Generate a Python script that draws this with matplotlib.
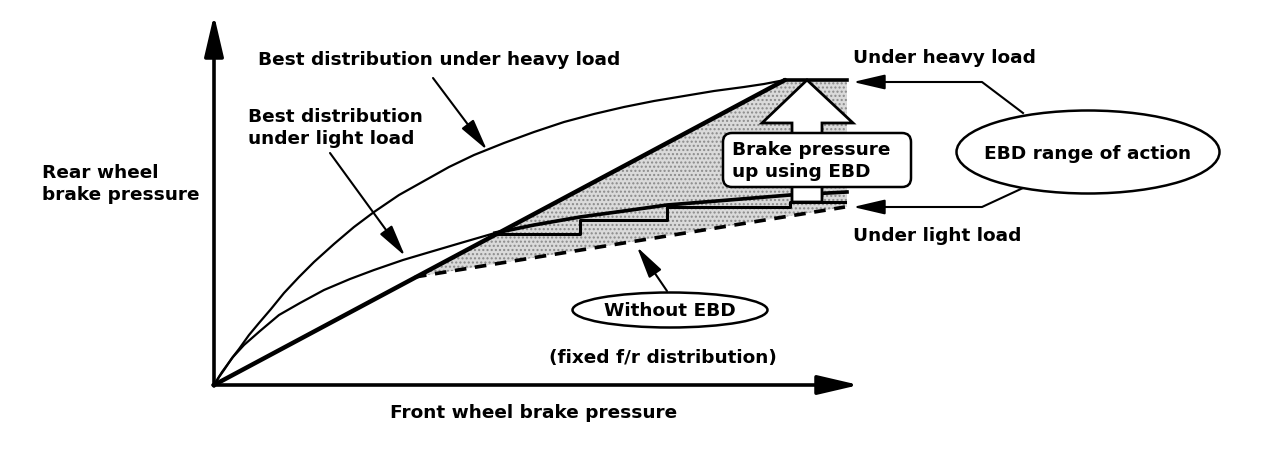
import matplotlib
matplotlib.use("Agg")
import matplotlib.pyplot as plt
from matplotlib.patches import Ellipse, FancyBboxPatch, Polygon

# ---- data (front pressure x, rear pressure y, arbitrary units) ----
heavy_x = [0, 5, 10, 18, 25, 35, 45, 57, 70, 85, 100, 120, 140, 160, 185, 210, 235, 260,
           290, 320, 350, 380, 410, 440, 470, 500, 530, 550, 571]
heavy_y = [0, 8, 15, 27, 36, 50, 62, 76, 92, 108, 123, 141, 158, 173, 190, 204, 218, 230,
           242, 253, 263, 271, 278, 284, 289, 294, 298, 301, 305]
light_x = [0, 8, 19, 30, 46, 65, 86, 110, 136, 160, 189, 216, 250, 281, 320, 366, 410,
           453, 515, 576, 633]
light_y = [0, 13, 28, 40, 54, 70, 82, 95, 106, 115, 125, 133, 143, 152, 160, 168, 174,
           180, 185, 190, 193]
fixed_x = [0, 571]
fixed_y = [0, 305]
noebd_x = [201, 631]
noebd_y = [108, 178]
heavy_level_x = [571, 633]
heavy_level_y = [305, 305]
stair_x = [281, 366, 366, 453, 453, 576, 576, 631]
stair_y = [151, 151, 165, 165, 178, 178, 183, 183]

FONT = "DejaVu Sans"
FS = 13.3
LS = 1.25

fig = plt.figure(figsize=(12.8, 4.5), dpi=100)
ax = fig.add_axes([0, 0, 1, 1])
ax.set_xlim(-214, 1066)
ax.set_ylim(-65, 385)
ax.axis("off")

def txt(x, y, s, ha="left", **kw):
    ax.text(x, y, s, fontfamily=FONT, fontweight="bold", fontsize=FS, ha=ha,
            va="center", linespacing=LS, zorder=kw.pop("zorder", 6), **kw)

# shaded EBD range
poly = [(noebd_x[0], noebd_y[0]), (fixed_x[1], fixed_y[1]),
        (heavy_level_x[1], heavy_level_y[1]), (heavy_level_x[1], noebd_y[1]),
        (noebd_x[1], noebd_y[1])]
ax.add_patch(Polygon(poly, closed=True, facecolor="#dadada", edgecolor="#8a8a8a",
                     hatch="....", linewidth=0, zorder=1))

# axes arrows
axap = dict(arrowstyle="-|>,head_length=1.8,head_width=0.42", lw=2.6, color="black",
            mutation_scale=14, shrinkA=0, shrinkB=0)
ax.annotate("", xy=(0, 370), xytext=(0, -1), arrowprops=axap, zorder=6)
ax.annotate("", xy=(645, 0), xytext=(-1, 0), arrowprops=axap, zorder=6)

# curves
ax.plot(heavy_x, heavy_y, color="black", lw=1.6, zorder=3, solid_joinstyle="round")
ax.plot(light_x, light_y, color="black", lw=1.6, zorder=3, solid_joinstyle="round")
lx2 = [x for x in light_x if x >= stair_x[0]]
ly2 = [y for x, y in zip(light_x, light_y) if x >= stair_x[0]]
ax.plot(lx2, ly2, color="black", lw=2.6, zorder=3, solid_joinstyle="round")
ax.plot(fixed_x, fixed_y, color="black", lw=3.2, zorder=3, solid_capstyle="round")
ax.plot(heavy_level_x, heavy_level_y, color="black", lw=2.6, zorder=3)
ax.plot(noebd_x, noebd_y, color="black", lw=2.6, dashes=(3.2, 2.4), zorder=3)
ax.plot(stair_x, stair_y, color="black", lw=2.2, zorder=3)

# hollow "pressure up" arrow from light-load level to heavy-load level
cx = 593
base_y = stair_y[-1]
tip_y = heavy_level_y[0]
head_y = 262
arrow = [(cx - 15, base_y), (cx + 15, base_y), (cx + 15, head_y), (cx + 46, head_y),
         (cx, tip_y), (cx - 45, head_y), (cx - 15, head_y)]
ax.add_patch(Polygon(arrow, closed=True, facecolor="white", edgecolor="black",
                     linewidth=2.0, joinstyle="miter", zorder=4))

# box
ax.add_patch(FancyBboxPatch((509, 198), 188, 54, boxstyle="round,pad=0,rounding_size=9",
                            facecolor="white", edgecolor="black", linewidth=1.8, zorder=5))
txt(518, 224, "Brake pressure\nup using EBD")

# ellipses
ax.add_patch(Ellipse((874, 233), 263, 83, facecolor="white", edgecolor="black",
                     linewidth=1.8, zorder=5))
txt(874, 231, "EBD range of action", ha="center")
ax.add_patch(Ellipse((456, 75), 195, 35, facecolor="white", edgecolor="black",
                     linewidth=1.8, zorder=5))
txt(456, 74, "Without EBD", ha="center")
txt(449, 27, "(fixed f/r distribution)", ha="center")

# labels
txt(44, 325, "Best distribution under heavy load")
txt(34, 257, "Best distribution\nunder light load")
txt(-172, 201, "Rear wheel\nbrake pressure")
txt(320, -28, "Front wheel brake pressure", ha="center")
txt(639, 327, "Under heavy load")
txt(639, 149, "Under light load")

# leader arrows
ap = dict(arrowstyle="-|>,head_length=1.5,head_width=0.35", lw=1.5, color="black",
          mutation_scale=13, shrinkA=0, shrinkB=0)
ax.annotate("", xy=(273, 235), xytext=(219, 307), arrowprops=ap, zorder=6)
ax.annotate("", xy=(191, 129), xytext=(116, 232), arrowprops=ap, zorder=6)
ax.annotate("", xy=(423, 138), xytext=(453, 94), arrowprops=ap, zorder=6)

ax.plot([809, 768, 660], [272, 303, 303], color="black", lw=1.5, zorder=4)
ax.annotate("", xy=(639, 303), xytext=(662, 303), arrowprops=ap, zorder=6)
ax.plot([809, 768, 660], [197, 178, 178], color="black", lw=1.5, zorder=4)
ax.annotate("", xy=(639, 178), xytext=(662, 178), arrowprops=ap, zorder=6)

fig.savefig("out.png", dpi=100, facecolor="white")
